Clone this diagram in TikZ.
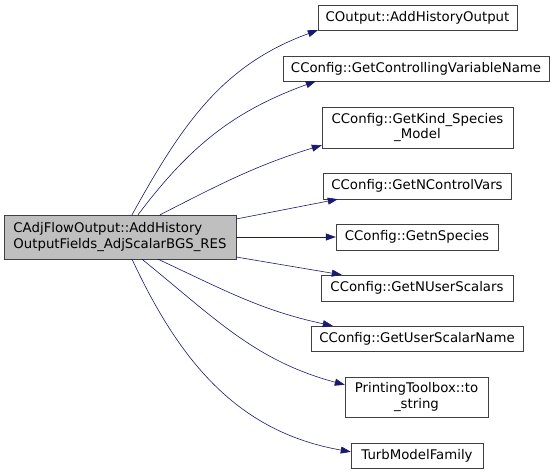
\documentclass[tikz,border=0pt]{standalone}
\usepackage{fontspec}
\setmainfont{DejaVu Sans}
\usepackage{tikz}
\usetikzlibrary{arrows.meta}

\definecolor{callblue}{HTML}{191970}

\begin{document}
\begin{tikzpicture}
 [x=1pt, y=-1pt,
  main node/.style={rectangle, draw=black!75, fill=black!25, align=left, inner sep=0pt, font=\fontsize{13.3}{15.5}\selectfont},
  normal node/.style={rectangle, draw=black!75, fill=white, align=center, inner sep=0pt, font=\fontsize{13.3}{15.5}\selectfont},
  call/.style={-{Triangle[length=10pt,width=7pt]}, draw=callblue, semithick}]

\useasboundingbox (0,0) rectangle (556,475);

\node[main node, minimum width=232pt, minimum height=44pt] (main) at (120,237) {CAdjFlowOutput::AddHistory\\OutputFields\_AdjScalarBGS\_RES};

\node[normal node, minimum width=199pt, minimum height=25pt] (addhist) at (417.5,17.5) {COutput::AddHistoryOutput};
\node[normal node, minimum width=266pt, minimum height=25pt] (ctrlname) at (416,68.5) {CConfig::GetControllingVariableName};
\node[normal node, minimum width=191pt, minimum height=41pt] (kindspec) at (417.5,127.5) {CConfig::GetKind\_Species\\\_Model};
\node[normal node, minimum width=188pt, minimum height=26pt] (nctrl) at (417,186) {CConfig::GetNControlVars};
\node[normal node, minimum width=162pt, minimum height=26pt] (nspec) at (417,237) {CConfig::GetnSpecies};
\node[normal node, minimum width=192pt, minimum height=26pt] (nuser) at (417,288) {CConfig::GetNUserScalars};
\node[normal node, minimum width=212pt, minimum height=25pt] (username) at (417,338.5) {CConfig::GetUserScalarName};
\node[normal node, minimum width=143pt, minimum height=40pt] (tostr) at (416.5,397) {PrintingToolbox::to\\\_string};
\node[normal node, minimum width=132pt, minimum height=25pt] (turb) at (417,455.5) {TurbModelFamily};

\path
  ([xshift=12pt]main.north) edge [call, out=61, in=200] (addhist.south west)
  ([xshift=18pt]main.north) edge [call, out=53, in=200] ([xshift=33pt]ctrlname.south west)
  ([xshift=40pt]main.north) edge [call, out=27, in=197] ([yshift=3pt]kindspec.south west)
  ([yshift=18pt]main.east) edge [call] ([xshift=15pt]nctrl.south west)
  (main.east) edge [call] (nspec.west)
  ([yshift=-20pt]main.east) edge [call] ([xshift=21pt]nuser.north west)
  ([xshift=38pt]main.south) edge [call, out=-25, in=168] ([xshift=22pt]username.north west)
  ([xshift=22pt]main.south) edge [call, out=-39, in=165] ([yshift=-8pt]tostr.north west)
  ([xshift=12pt]main.south) edge [call, out=-65, in=170] ([yshift=-9pt]turb.north west);

\end{tikzpicture}
\end{document}
